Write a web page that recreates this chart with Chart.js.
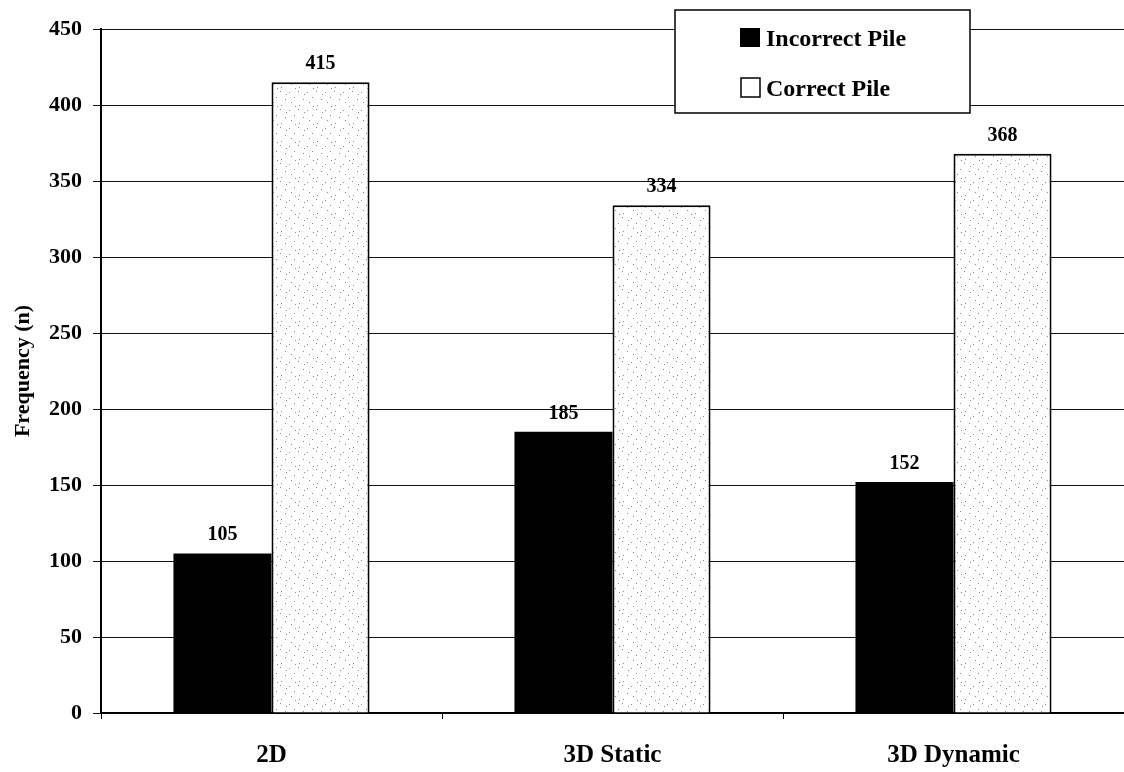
<!DOCTYPE html>
<html>
<head>
<meta charset="utf-8">
<script src="https://cdn.jsdelivr.net/npm/chart.js@4"></script>
<style>
  body { margin: 0; background: #fff; }
  canvas { display: block; }
</style>
</head>
<body>
<canvas id="canvas" width="1124" height="772"></canvas>
<script>
let categories = ["2D", "3D Static", "3D Dynamic"];
let incorrectPile = [105, 185, 152];
let correctPile = [415, 334, 368];
let seriesNames = ["Incorrect Pile", "Correct Pile"];
let yTicks = [0, 50, 100, 150, 200, 250, 300, 350, 400, 450];

let serif = "'Liberation Serif', 'DejaVu Serif', serif";

// sparse grey dots on white, like the scanned stipple fill
function dotPattern() {
    let c = document.createElement("canvas");
    c.width = 18; c.height = 18;
    let g = c.getContext("2d");
    g.fillStyle = "#fff";
    g.fillRect(0, 0, 18, 18);
    g.fillStyle = "#8a8a8a";
    [[1, 2], [10, 1], [6, 7], [15, 9], [3, 12], [11, 15], [16, 4], [7, 16]].forEach((p) => g.fillRect(p[0], p[1], 1, 1));
    return g.createPattern(c, "repeat");
}

let valueLabels = {
    id: "valueLabels",
    afterDatasetsDraw(chart) {
        let ctx = chart.ctx;
        ctx.save();
        ctx.fillStyle = "#000";
        ctx.font = "bold 20px " + serif;
        ctx.textAlign = "center";
        ctx.textBaseline = "alphabetic";
        chart.data.datasets.forEach((ds, i) => {
            chart.getDatasetMeta(i).data.forEach((bar, j) => {
                ctx.fillText(ds.data[j], bar.x, bar.y - 13);
            });
        });
        ctx.restore();
    }
};

let legendBox = {
    id: "legendBox",
    afterDraw(chart) {
        let ctx = chart.ctx;
        ctx.save();
        ctx.fillStyle = "#fff";
        ctx.fillRect(675, 10, 295, 103);
        ctx.strokeStyle = "#000";
        ctx.lineWidth = 1.5;
        ctx.strokeRect(675, 10, 295, 103);
        // swatches
        ctx.fillStyle = "#000";
        ctx.fillRect(740, 28, 20, 19);
        ctx.fillStyle = "#fff";
        ctx.fillRect(741, 78, 19, 19);
        ctx.lineWidth = 1.5;
        ctx.strokeRect(741, 78, 19, 19);
        ctx.fillStyle = "#000";
        ctx.textBaseline = "alphabetic";
        ctx.textAlign = "left";
        ctx.font = "bold 24px " + serif;
        ctx.fillText(seriesNames[0], 766, 46);
        ctx.fillText(seriesNames[1], 766, 96);
        ctx.restore();
    }
};

new Chart(document.getElementById("canvas").getContext("2d"), {
    type: "bar",
    data: {
        labels: categories,
        datasets: [{
            label: seriesNames[0],
            data: incorrectPile,
            backgroundColor: "#000",
            borderColor: "#000",
            borderWidth: 0
        }, {
            label: seriesNames[1],
            data: correctPile,
            backgroundColor: dotPattern(),
            borderColor: "#000",
            borderWidth: 2
        }]
    },
    options: {
        responsive: false,
        animation: false,
        layout: {
            padding: {top: 29, right: -6, bottom: 0, left: 0}
        },
        datasets: {
            bar: {
                categoryPercentage: 0.575,
                barPercentage: 1
            }
        },
        plugins: {
            legend: {display: false},
            tooltip: {enabled: false}
        },
        scales: {
            x: {
                afterFit: (axis) => { axis.height = 59; },
                grid: {
                    offset: true,
                    drawOnChartArea: false,
                    color: "#000",
                    tickLength: 6
                },
                border: {color: "#000", width: 2},
                ticks: {
                    color: "#000",
                    padding: 22,
                    font: {family: serif, size: 25, weight: "bold"}
                }
            },
            y: {
                min: 0,
                max: 450,
                afterBuildTicks: (axis) => { axis.ticks = yTicks.map((v) => ({value: v})); },
                afterFit: (axis) => { axis.width = 101; },
                grid: {
                    color: "#111",
                    lineWidth: 1,
                    tickLength: 8
                },
                border: {color: "#000", width: 2},
                ticks: {
                    color: "#000",
                    padding: 11,
                    font: {family: serif, size: 22, weight: "bold"}
                },
                title: {
                    display: true,
                    text: "Frequency (n)",
                    color: "#000",
                    padding: {top: 10, bottom: 0},
                    font: {family: serif, size: 22, weight: "bold"}
                }
            }
        }
    },
    plugins: [valueLabels, legendBox]
});
</script>
</body>
</html>
